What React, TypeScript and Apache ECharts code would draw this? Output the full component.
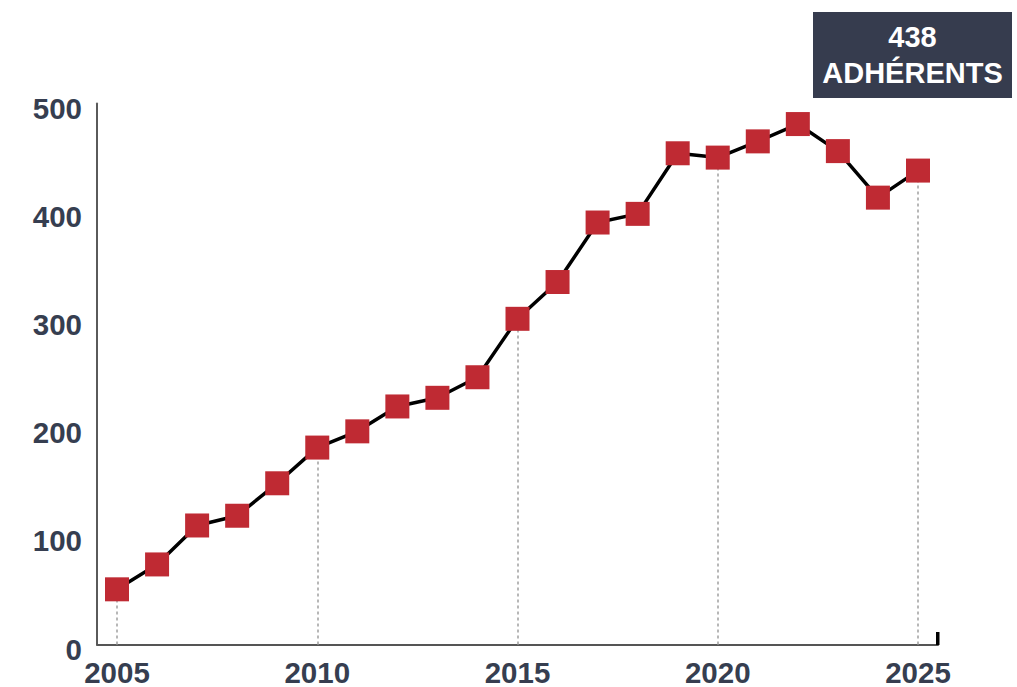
import React, { useEffect, useRef } from "react";
import * as echarts from "echarts";

const years: string[] = [
  "2005", "2006", "2007", "2008", "2009", "2010", "2011", "2012", "2013", "2014",
  "2015", "2016", "2017", "2018", "2019", "2020", "2021", "2022", "2023", "2024", "2025",
];
const members: number[] = [
  51, 74, 110, 119, 149, 182, 197, 220, 228, 247,
  301, 335, 390, 398, 454, 450, 465, 481, 456, 413, 438,
];
const dropYears: string[] = ["2005", "2010", "2015", "2020", "2025"];
const yTicks = { min: 0, max: 500, interval: 100 };
const badgeLines: string[] = ["438", "ADHÉRENTS"];

const FONT = "'Liberation Sans', Arial, Helvetica, sans-serif";
const LABEL_COLOR = "#363e50";

export default function App() {
  const ref = useRef<HTMLDivElement>(null);

  useEffect(() => {
    if (!ref.current) return;
    const chart = echarts.init(ref.current, null, { renderer: "svg" });

    const dropData = dropYears.map((y) => {
      const v = members[years.indexOf(y)];
      return [{ coord: [y, 0] }, { coord: [y, v] }];
    });

    chart.setOption({
      animation: false,
      backgroundColor: "#ffffff",
      grid: {
        left: 97,
        right: 79,
        top: 103.5,
        bottom: 42.5,
        containLabel: false,
        outerBoundsMode: "none",
      },
      xAxis: {
        type: "category",
        data: years,
        boundaryGap: true,
        axisLine: { show: true, lineStyle: { color: "#555555", width: 2 } },
        axisTick: { show: false },
        axisLabel: {
          interval: 4,
          color: LABEL_COLOR,
          fontFamily: FONT,
          fontWeight: "bold",
          fontSize: 29.5,
          lineHeight: 29,
          margin: 13,
        },
        splitLine: { show: false },
      },
      yAxis: {
        type: "value",
        min: yTicks.min,
        max: yTicks.max,
        interval: yTicks.interval,
        axisLine: { show: true, lineStyle: { color: "#5a5a5a", width: 2 } },
        axisTick: { show: false },
        splitLine: { show: false },
        axisLabel: {
          color: LABEL_COLOR,
          fontFamily: FONT,
          fontWeight: "bold",
          fontSize: 29.5,
          margin: 15,
          verticalAlign: "top",
          lineHeight: 9,
        },
      },
      series: [
        {
          type: "line",
          data: members,
          z: 1,
          showSymbol: false,
          lineStyle: { opacity: 0 },
          silent: true,
          markLine: {
            silent: true,
            symbol: ["none", "none"],
            label: { show: false },
            lineStyle: { color: "#b0b0b0", width: 1.8, type: [3, 3] },
            data: dropData,
          },
        },
        {
          type: "line",
          data: members,
          z: 5,
          symbol: "rect",
          symbolSize: 24,
          itemStyle: { color: "#bf2a33" },
          lineStyle: { color: "#000000", width: 3.5 },
        },
      ],
      graphic: [
        {
          type: "rect",
          shape: { x: 936, y: 632, width: 3.5, height: 13 },
          style: { fill: "#000000" },
          z: 10,
        },
        {
          type: "rect",
          shape: { x: 813, y: 12, width: 199, height: 86 },
          style: { fill: "#363c4e" },
          z: 10,
        },
        {
          type: "text",
          x: 912.5,
          y: 37,
          style: {
            text: badgeLines[0],
            fill: "#ffffff",
            font: `bold 29px ${FONT}`,
            align: "center",
            verticalAlign: "middle",
          },
          z: 11,
        },
        {
          type: "text",
          x: 912.5,
          y: 72.5,
          style: {
            text: badgeLines[1],
            fill: "#ffffff",
            font: `bold 29px ${FONT}`,
            align: "center",
            verticalAlign: "middle",
          },
          z: 11,
        },
      ],
    });

    return () => chart.dispose();
  }, []);

  return (
    <div
      ref={ref}
      style={{ position: "fixed", left: 0, top: 0, width: 1017, height: 687 }}
    />
  );
}
